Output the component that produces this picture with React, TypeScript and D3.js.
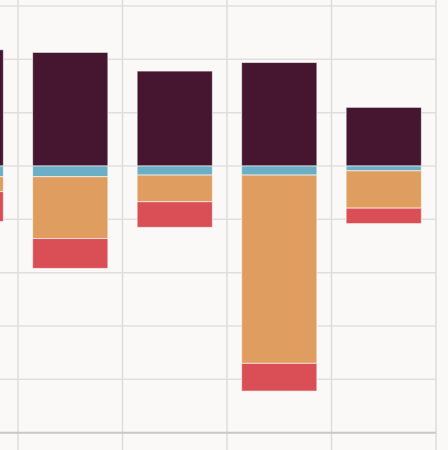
import React from "react";
import * as d3 from "d3";

const categories = ["A", "B", "C", "D", "E"];
const positiveSeries = [21.8, 21.3, 17.8, 19.4, 11.0];
const blueSeries = [-2.0, -2.0, -1.7, -1.7, -0.9];
const orangeSeries = [-2.8, -11.6, -5.0, -35.3, -7.0];
const redSeries = [-5.6, -5.6, -4.8, -5.2, -2.9];
const yTicks = [30, 20, 10, 0, -10, -20, -30, -40];

const keys = ["pos", "blue", "orange", "red"];
const colors: Record<string, string> = {
  pos: "#46152f",
  blue: "#6aafc5",
  orange: "#df9e5f",
  red: "#d94f55",
};

export default function App() {
  const W = 448;
  const H = 450;
  const plotRight = 436;
  const x = d3
    .scaleBand<string>()
    .domain(categories)
    .range([-86.5, plotRight])
    .paddingInner(0.28)
    .paddingOuter(0.14);
  const y = d3.scaleLinear().domain([-50, 30]).range([432.7, 6]);

  const rows = categories.map((c, i) => ({
    cat: c,
    pos: positiveSeries[i],
    blue: blueSeries[i],
    orange: orangeSeries[i],
    red: redSeries[i],
  }));
  const stacked = d3
    .stack<any>()
    .keys(keys)
    .offset(d3.stackOffsetDiverging)(rows);

  const step = x.step();
  const gap = step - x.bandwidth();
  const vLines = categories.map((c) => (x(c) as number) - gap / 2);
  vLines.push(plotRight);

  return (
    <div style={{ position: "fixed", left: 0, top: 0 }}>
      <svg width={W} height={H} style={{ display: "block" }}>
        <rect x={0} y={0} width={W} height={H} fill="#faf9f8" />
        {yTicks.map((t) => (
          <line
            key={t}
            x1={0}
            x2={plotRight}
            y1={y(t)}
            y2={y(t)}
            stroke="#e0dfde"
            strokeWidth={1.5}
          />
        ))}
        {vLines.map((v, i) => (
          <line
            key={i}
            x1={v}
            x2={v}
            y1={0}
            y2={H}
            stroke="#dddcdb"
            strokeWidth={1.5}
          />
        ))}
        <line
          x1={0}
          x2={plotRight}
          y1={y(-50)}
          y2={y(-50)}
          stroke="#c9c8c7"
          strokeWidth={2}
        />
        {stacked.map((s) => (
          <g key={s.key} fill={colors[s.key]}>
            {s.map((d, i) => (
              <rect
                key={i}
                x={x(categories[i])}
                width={x.bandwidth()}
                y={y(Math.max(d[0], d[1]))}
                height={Math.abs(y(d[0]) - y(d[1]))}
                stroke="rgba(255,255,255,0.6)"
                strokeWidth={1}
              />
            ))}
          </g>
        ))}
      </svg>
    </div>
  );
}
